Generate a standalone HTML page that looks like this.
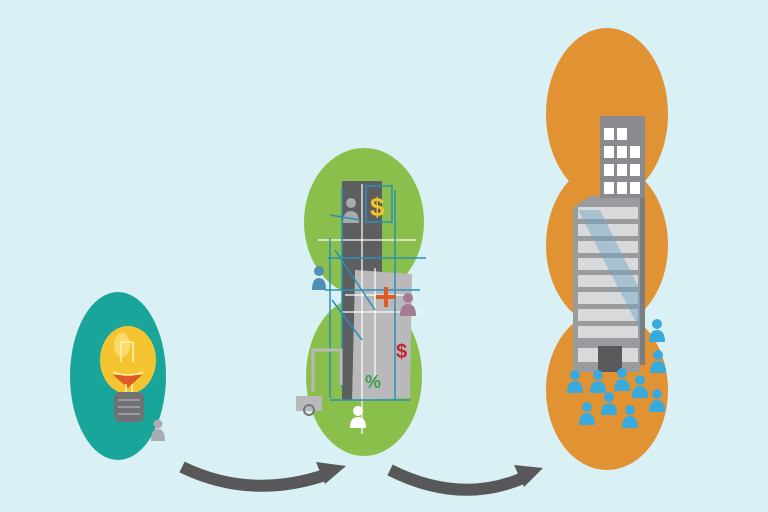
<!DOCTYPE html>
<html><head><style>html,body{margin:0;padding:0;background:#d9f0f4;}svg{display:block}</style></head><body>
<svg width="768" height="512" viewBox="0 0 768 512" xmlns="http://www.w3.org/2000/svg">
<rect width="768" height="512" fill="#d9f0f4"/>
<!-- teal -->
<ellipse cx="118" cy="376" rx="48" ry="84" fill="#1aa59a"/>
<ellipse cx="128" cy="360" rx="28" ry="34" fill="#f5c531"/>
<ellipse cx="122" cy="345" rx="8" ry="12" fill="#fadb6a"/>
<path d="M113 375 L142 375 L128 388Z" fill="#e05a24"/>
<path d="M121 362 l0 -20 l12 0 l0 20 M113 372 q15 6 30 0 M126 384 l0 10 M132 384 l0 10" stroke="#fff3b0" stroke-width="1.5" fill="none"/>
<rect x="114" y="392" width="30" height="30" rx="6" fill="#707174"/>
<path d="M118 400h22M118 407h22M118 414h22" stroke="#aaa" stroke-width="1.5"/>
<circle cx="158" cy="424" r="4.5" fill="#a9acb0"/><path d="M151 441 q0-12 7-12 q7 0 7 12Z" fill="#a9acb0"/>
<!-- green -->
<ellipse cx="364" cy="222" rx="60" ry="74" fill="#8bbf4b"/>
<ellipse cx="364" cy="376" rx="58" ry="80" fill="#8bbf4b"/>
<rect x="342" y="181" width="40" height="210" fill="#5d5e60"/>
<path d="M355 270 L412 274 L410 398 L352 400Z" fill="#b9b9bb"/>
<path d="M342 300 L355 270 L352 400 L342 400Z" fill="#5d5e60"/>
<rect x="366" y="186" width="26" height="36" fill="none" stroke="#2a8fb8" stroke-width="1.5"/>
<text x="370" y="216" font-family="Liberation Sans,sans-serif" font-weight="bold" font-size="26" fill="#f3c623">$</text>
<circle cx="351" cy="203" r="5" fill="#aaa"/><path d="M343 223 q0-12 8-12 q8 0 8 12Z" fill="#aaa"/>
<g stroke="#fff" stroke-width="1.2"><path d="M318 240h98M340 312h80M362 184v250M375 268v110M345 295h60"/></g>
<g stroke="#2a8fb8" stroke-width="1.5" fill="none"><path d="M328 258h98M325 290h95M330 238v160M335 250l40 60M332 300l30 40M342 188v200M395 190v210M330 400h80M330 215l30 5"/></g>
<path d="M376 297h20M386 287v20" stroke="#e05a24" stroke-width="4"/>
<text x="396" y="358" font-family="Liberation Sans,sans-serif" font-weight="bold" font-size="20" fill="#c0272d">$</text>
<text x="365" y="388" font-family="Liberation Sans,sans-serif" font-weight="bold" font-size="18" fill="#3ca04a">%</text>
<circle cx="319" cy="271" r="5" fill="#4f8fb4"/><path d="M312 290 q0-12 7-12 q7 0 7 12Z" fill="#4f8fb4"/>
<circle cx="408" cy="298" r="5" fill="#a47d95"/><path d="M400 316 q0-12 8-12 q8 0 8 12Z" fill="#a47d95"/>
<circle cx="358" cy="411" r="5" fill="#fff"/><path d="M350 428 q0-11 8-11 q8 0 8 11Z" fill="#fff"/>
<path d="M313 392v-42h28v35" stroke="#b9b9bb" stroke-width="3" fill="none"/>
<rect x="296" y="396" width="26" height="15" fill="#b9b9bb"/><circle cx="309" cy="410" r="5" fill="none" stroke="#777" stroke-width="2"/>
<!-- orange -->
<ellipse cx="607" cy="114" rx="61" ry="86" fill="#e19233"/>
<ellipse cx="607" cy="245" rx="61" ry="82" fill="#e19233"/>
<ellipse cx="607" cy="390" rx="61" ry="80" fill="#e19233"/>
<path d="M600 116 L617 116 L645 140 L645 365 L600 365Z" fill="#7c7d80"/>
<path d="M573 208 L590 196 L640 196 L640 372 L573 372Z" fill="#9a9b9e"/>
<rect x="600" y="116" width="45" height="82" fill="#8a8b8e"/>
<g fill="#fff"><rect x="604" y="128" width="10" height="12"/><rect x="617" y="128" width="10" height="12"/><rect x="604" y="146" width="10" height="12"/><rect x="617" y="146" width="10" height="12"/><rect x="630" y="146" width="10" height="12"/><rect x="604" y="164" width="10" height="12"/><rect x="617" y="164" width="10" height="12"/><rect x="630" y="164" width="10" height="12"/><rect x="604" y="182" width="10" height="12"/><rect x="617" y="182" width="10" height="12"/><rect x="630" y="182" width="10" height="12"/></g>
<g fill="#d8d9db"><rect x="578" y="207" width="60" height="12"/><rect x="578" y="224" width="60" height="12"/><rect x="578" y="241" width="60" height="12"/><rect x="578" y="258" width="60" height="12"/><rect x="578" y="275" width="60" height="12"/><rect x="578" y="292" width="60" height="12"/><rect x="578" y="309" width="60" height="12"/><rect x="578" y="326" width="60" height="12"/><rect x="578" y="348" width="20" height="14"/><rect x="622" y="348" width="16" height="14"/></g>
<path d="M578 210 L600 210 L640 290 L640 330Z" fill="#6fa3c6" opacity="0.45"/>
<rect x="598" y="346" width="24" height="26" fill="#59595b"/>
<g fill="#3aa9dc">
<g transform="translate(575,375)"><circle r="5"/><path d="M-8 18 q0-12 8-12 q8 0 8 12Z"/></g>
<g transform="translate(598,375)"><circle r="5"/><path d="M-8 18 q0-12 8-12 q8 0 8 12Z"/></g>
<g transform="translate(622,373)"><circle r="5"/><path d="M-8 18 q0-12 8-12 q8 0 8 12Z"/></g>
<g transform="translate(640,380)"><circle r="5"/><path d="M-8 18 q0-12 8-12 q8 0 8 12Z"/></g>
<g transform="translate(609,397)"><circle r="5"/><path d="M-8 18 q0-12 8-12 q8 0 8 12Z"/></g>
<g transform="translate(587,407)"><circle r="5"/><path d="M-8 18 q0-12 8-12 q8 0 8 12Z"/></g>
<g transform="translate(630,410)"><circle r="5"/><path d="M-8 18 q0-12 8-12 q8 0 8 12Z"/></g>
<g transform="translate(657,324)"><circle r="5"/><path d="M-8 18 q0-12 8-12 q8 0 8 12Z"/></g>
<g transform="translate(658,355)"><circle r="5"/><path d="M-8 18 q0-12 8-12 q8 0 8 12Z"/></g>
<g transform="translate(657,394)"><circle r="5"/><path d="M-8 18 q0-12 8-12 q8 0 8 12Z"/></g>
</g>
<!-- arrows -->
<path d="M182 467 Q250 500 325 475" stroke="#58585a" stroke-width="12" fill="none"/>
<path d="M316 462 L346 466 L325 484Z" fill="#58585a"/>
<path d="M390 470 Q460 505 523 478" stroke="#58585a" stroke-width="12" fill="none"/>
<path d="M514 465 L543 468 L524 487Z" fill="#58585a"/>
</svg>
</body></html>
